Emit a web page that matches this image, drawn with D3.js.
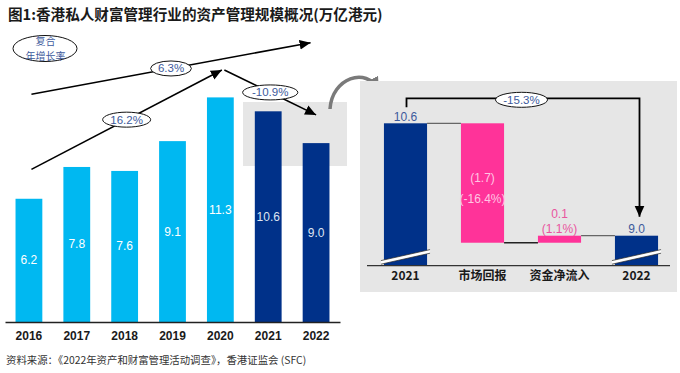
<!DOCTYPE html>
<html>
<head>
<meta charset="utf-8">
<script src="https://cdn.jsdelivr.net/npm/d3@7"></script>
<style>
  body { margin: 0; background: #fff; }
  svg { display: block; }
</style>
</head>
<body>
<div id="chart"></div>
<script>
// data
const years = ["2016", "2017", "2018", "2019", "2020", "2021", "2022"];
const aum = [6.2, 7.8, 7.6, 9.1, 11.3, 10.6, 9.0];
const cagrLabels = ["16.2%", "6.3%", "-10.9%"];

const bridgeCats = ["2021", "市场回报", "资金净流入", "2022"];
const bridgeValues = [10.6, -1.7, 0.1, 9.0];
const bridgeLabels = [["10.6"], ["(1.7)", "(-16.4%)"], ["0.1", "(1.1%)"], ["9.0"]];
const bridgeChange = "-15.3%";

const title = "图1:香港私人财富管理行业的资产管理规模概况(万亿港元)";
const source = "资料来源：《2022年资产和财富管理活动调查》，香港证监会 (SFC)";
const cagrCaption = ["复合", "年增长率"];

const W = 680, H = 373;
const lightBlue = "#00b8f1", navy = "#003189", pink = "#ff3399";
const blueText = "#3d5a9c";
const font = "'Liberation Sans', 'Noto Sans CJK SC', sans-serif";
const cjk = "'Noto Sans CJK SC', 'Liberation Sans', sans-serif";

const svg = d3.select("#chart").append("svg")
    .attr("width", W)
    .attr("height", H)
    .attr("viewBox", [0, 0, W, H]);

const defs = svg.append("defs");
function marker(id, color, size) {
    defs.append("marker")
        .attr("id", id)
        .attr("markerUnits", "userSpaceOnUse")
        .attr("viewBox", "0 -5 10 10")
        .attr("refX", 10).attr("refY", 0)
        .attr("markerWidth", size).attr("markerHeight", size)
        .attr("orient", "auto")
        .append("path")
        .attr("d", "M0,-4.5L10,0L0,4.5Z")
        .attr("fill", color);
}
marker("arrow", "#000", 11);
marker("arrowGrey", "#7a7a7a", 13);

// title + source
svg.append("text")
    .attr("x", 8).attr("y", 20)
    .attr("font-family", cjk)
    .attr("font-size", 14.6)
    .attr("font-weight", "bold")
    .attr("fill", "#1a1a1a")
    .text(title);

svg.append("text")
    .attr("x", 6).attr("y", 364)
    .attr("font-family", cjk)
    .attr("font-size", 10.4)
    .attr("fill", "#333")
    .text(source);

// ---------- left: annual bars ----------
const baseY = 322;
const x = d3.scaleBand()
    .domain(years)
    .range([5, 340])
    .paddingInner(0.44)
    .paddingOuter(0.22);
const y = d3.scaleLinear()
    .domain([0, 16.2])
    .range([baseY, 0]);

// grey highlight behind 2021-2022
svg.append("rect")
    .attr("x", 243).attr("y", 102)
    .attr("width", 104).attr("height", 64)
    .attr("fill", "#e6e6e6");

const bars = years.map((yr, i) => ({ year: yr, value: aum[i], recent: i >= 5 }));

svg.append("g")
    .selectAll("rect")
    .data(bars)
    .join("rect")
    .attr("x", d => x(d.year))
    .attr("y", d => y(d.value))
    .attr("width", x.bandwidth())
    .attr("height", d => baseY - y(d.value))
    .attr("fill", d => d.recent ? navy : lightBlue);

svg.append("g")
    .selectAll("text")
    .data(bars)
    .join("text")
    .attr("x", d => x(d.year) + x.bandwidth() / 2)
    .attr("y", d => (y(d.value) + baseY) / 2 + 4)
    .attr("text-anchor", "middle")
    .attr("font-family", font)
    .attr("font-size", 12)
    .attr("fill", d => d.recent ? "#dfe5f2" : "#fff")
    .text(d => d.value.toFixed(1));

svg.append("g")
    .attr("transform", `translate(0,${baseY})`)
    .call(d3.axisBottom(x).tickSize(0).tickPadding(9))
    .call(g => g.select(".domain").attr("stroke", "#222").attr("stroke-width", 1.3))
    .call(g => g.selectAll(".tick text")
        .attr("font-family", font)
        .attr("font-size", 12)
        .attr("font-weight", "bold")
        .attr("fill", "#1a1a1a"));

// CAGR arrows (from, to, start level, end level, x offsets)
const cagrArrows = [
    { from: "2016", to: "2020", v0: 7.68, v1: 12.68, dx0: 2.5, dx1: 1.5 },
    { from: "2016", to: "2022", v0: 11.46, v1: 14.05, dx0: 2.5, dx1: -5.5 },
    { from: "2020", to: "2022", v0: 12.68, v1: 10.42, dx0: 4, dx1: 0 }
];
const cx = yr => x(yr) + x.bandwidth() / 2;

cagrArrows.forEach((a, i) => {
    const x0 = cx(a.from) + a.dx0, x1 = cx(a.to) + a.dx1;
    const y0 = y(a.v0), y1 = y(a.v1);
    svg.append("line")
        .attr("x1", x0).attr("y1", y0)
        .attr("x2", x1).attr("y2", y1)
        .attr("stroke", "#000")
        .attr("stroke-width", 1.6)
        .attr("marker-end", "url(#arrow)");
    const mx = (x0 + x1) / 2, my = (y0 + y1) / 2;
    const lbl = cagrLabels[i];
    svg.append("ellipse")
        .attr("cx", mx).attr("cy", my)
        .attr("rx", lbl.length * 3.6 + 6).attr("ry", 7.5)
        .attr("fill", "#fff")
        .attr("stroke", "#111")
        .attr("stroke-width", 1);
    svg.append("text")
        .attr("x", mx).attr("y", my + 4)
        .attr("text-anchor", "middle")
        .attr("font-family", font)
        .attr("font-size", 11.5)
        .attr("fill", blueText)
        .text(lbl);
});

// "复合年增长率" bubble
svg.append("ellipse")
    .attr("cx", 45).attr("cy", 48.5)
    .attr("rx", 32).attr("ry", 13)
    .attr("fill", "#fff")
    .attr("stroke", "#111")
    .attr("stroke-width", 1);
svg.append("g")
    .selectAll("text")
    .data(cagrCaption)
    .join("text")
    .attr("x", 45.5)
    .attr("y", (d, i) => 45 + i * 14.6)
    .attr("text-anchor", "middle")
    .attr("font-family", cjk)
    .attr("font-size", 10)
    .attr("fill", blueText)
    .text(d => d);

// grey curved arrow to the bridge panel
svg.append("path")
    .attr("d", "M330,109 C332,78 366,66 379,90")
    .attr("fill", "none")
    .attr("stroke", "#7a7a7a")
    .attr("stroke-width", 3.5)
    .attr("marker-end", "url(#arrowGrey)");

// ---------- right: 2021 -> 2022 bridge ----------
svg.append("rect")
    .attr("x", 360).attr("y", 81)
    .attr("width", 317).attr("height", 211)
    .attr("fill", "#e6e6e6");

const baseR = 265.7;
const xR = d3.scaleBand()
    .domain(bridgeCats)
    .range([367, 675])
    .paddingInner(0.44)
    .paddingOuter(0.22);
const yR = d3.scaleLinear()
    .domain([8.573, 10.6])
    .range([baseR, 123.3]);

// running totals for the waterfall
let run = 0;
const steps = bridgeCats.map((c, i) => {
    const total = i === 0 || i === bridgeCats.length - 1;
    let lo, hi;
    if (total) {
        run = bridgeValues[i];
        lo = null; hi = run;
    } else {
        const prev = run;
        run = prev + bridgeValues[i];
        lo = Math.min(prev, run); hi = Math.max(prev, run);
    }
    return { cat: c, total, lo, hi, end: run, labels: bridgeLabels[i] };
});

// connectors
steps.slice(0, -1).forEach((s, i) => {
    const nxt = steps[i + 1];
    svg.append("line")
        .attr("x1", xR(s.cat) + xR.bandwidth())
        .attr("x2", xR(nxt.cat))
        .attr("y1", yR(s.end)).attr("y2", yR(s.end))
        .attr("stroke", i === 1 ? "#222" : "#666")
        .attr("stroke-width", 1.3);
});

svg.append("g")
    .selectAll("rect")
    .data(steps)
    .join("rect")
    .attr("x", d => xR(d.cat))
    .attr("y", d => yR(d.hi))
    .attr("width", xR.bandwidth())
    .attr("height", d => (d.total ? baseR : yR(d.lo)) - yR(d.hi))
    .attr("fill", d => d.total ? navy : pink);

// axis break stripes on the total bars
steps.filter(d => d.total).forEach(d => {
    const xl = xR(d.cat) - 3, xr = xR(d.cat) + xR.bandwidth() + 3;
    const yl = baseR - 1.5, yr = baseR - 12.5, t = 3.6;
    svg.append("path")
        .attr("d", `M${xl},${yl}L${xr},${yr}L${xr},${yr - t}L${xl},${yl - t}Z`)
        .attr("fill", "#fff");
    [0, t].forEach(o => svg.append("line")
        .attr("x1", xl).attr("y1", yl - o)
        .attr("x2", xr).attr("y2", yr - o)
        .attr("stroke", "#222")
        .attr("stroke-width", 0.7));
});

svg.append("line")
    .attr("x1", 367).attr("x2", 670)
    .attr("y1", baseR).attr("y2", baseR)
    .attr("stroke", "#333")
    .attr("stroke-width", 1.2);

svg.append("g")
    .selectAll("text")
    .data(bridgeCats)
    .join("text")
    .attr("x", d => xR(d) + xR.bandwidth() / 2)
    .attr("y", baseR + 14.5)
    .attr("text-anchor", "middle")
    .attr("font-family", cjk)
    .attr("font-size", 12)
    .attr("font-weight", "bold")
    .attr("fill", "#1a1a1a")
    .text(d => d);

// value labels
steps.forEach((s, i) => {
    const mid = xR(s.cat) + xR.bandwidth() / 2;
    const g = svg.append("text")
        .attr("text-anchor", "middle")
        .attr("font-family", font)
        .attr("font-size", 12);
    if (s.total) {
        g.attr("fill", blueText)
            .attr("x", mid).attr("y", yR(s.hi) - 2.5)
            .text(s.labels[0]);
    } else if (bridgeValues[i] < 0) {
        const c = (yR(s.hi) + yR(s.lo)) / 2;
        g.attr("fill", "#ffc6e3")
            .selectAll("tspan").data(s.labels).join("tspan")
            .attr("x", mid)
            .attr("y", (d, k) => c - 1 + k * 21)
            .text(d => d);
    } else {
        g.attr("fill", "#e9559f")
            .selectAll("tspan").data(s.labels).join("tspan")
            .attr("x", mid)
            .attr("y", (d, k) => yR(s.hi) - 17.5 + k * 14.5)
            .text(d => d);
    }
});

// overall change bracket
const bx0 = xR(bridgeCats[0]) + xR.bandwidth() / 2 + 1;
const bx1 = xR(bridgeCats[3]) + xR.bandwidth() / 2 + 3;
const by = yR(10.6) - 25;
svg.append("path")
    .attr("d", `M${bx0},${yR(10.6) - 16}V${by}H${bx1}V${yR(9.0) - 19}`)
    .attr("fill", "none")
    .attr("stroke", "#000")
    .attr("stroke-width", 1.8)
    .attr("marker-end", "url(#arrow)");
const bmx = 521.5;
svg.append("ellipse")
    .attr("cx", bmx).attr("cy", by + 1.5)
    .attr("rx", 26).attr("ry", 7.5)
    .attr("fill", "#fff")
    .attr("stroke", "#111")
    .attr("stroke-width", 1);
svg.append("text")
    .attr("x", bmx).attr("y", by + 5.5)
    .attr("text-anchor", "middle")
    .attr("font-family", font)
    .attr("font-size", 11.5)
    .attr("fill", blueText)
    .text(bridgeChange);
</script>
</body>
</html>
